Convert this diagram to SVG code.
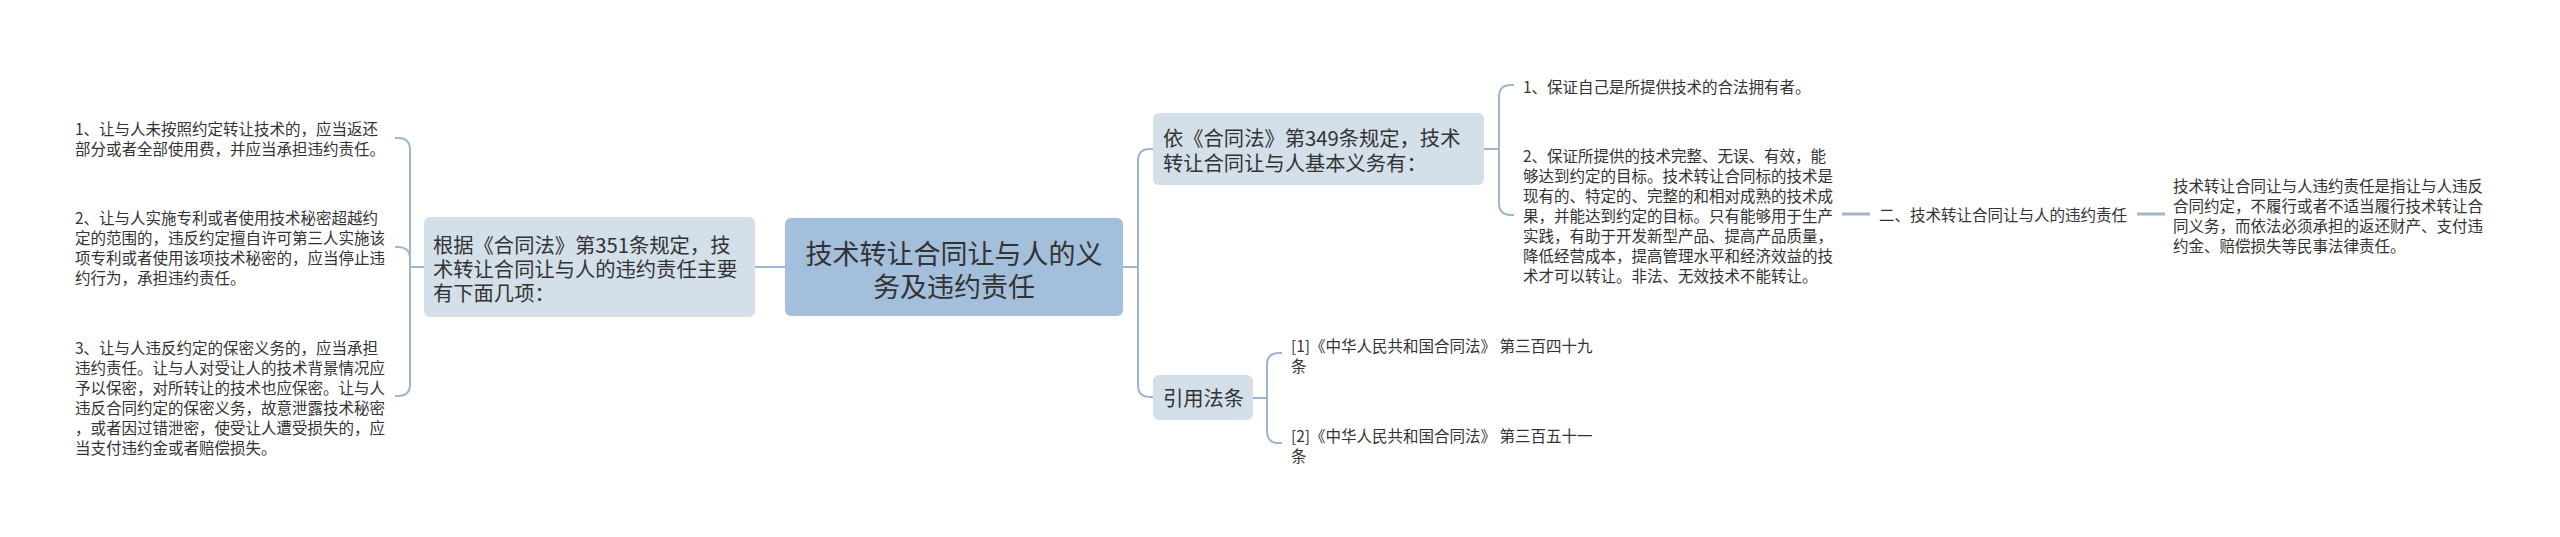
<svg xmlns="http://www.w3.org/2000/svg" width="2560" height="537" viewBox="0 0 2560 537">
<style>
text{font-family:"Noto Sans CJK SC","Noto Sans",sans-serif;fill:#333;dominant-baseline:central}
.s{font-size:15.5px}
.m{font-size:20.3px}
.c{font-size:27px;text-anchor:middle}
.n2{fill:#d3dfe9}
.n1{fill:#a4bfdb}
.ln{fill:none;stroke:#9bb6d2;stroke-width:2}
.st{fill:none;stroke:#a3b6c8;stroke-width:3}
</style>
<rect width="2560" height="537" fill="#fff"/>
<g id="connectors">
<path class="ln" d="M424,267 L410,267"/>
<path class="ln" d="M410,267 L410,150 Q410,138 398,138 L395,138"/>
<path class="ln" d="M410,267 L410,259 Q410,247 398,247 L395,247"/>
<path class="ln" d="M410,267 L410,384 Q410,396 398,396 L395,396"/>
<path class="ln" d="M755,267 L785,267"/>
<path class="ln" d="M1123,267 L1138,267"/>
<path class="ln" d="M1138,267 L1138,161 Q1138,149 1150,149 L1153,149"/>
<path class="ln" d="M1138,267 L1138,385 Q1138,397 1150,397 L1153,397"/>
<path class="ln" d="M1484,149 L1499,149"/>
<path class="ln" d="M1499,149 L1499,97 Q1499,85 1511,85 L1514,85"/>
<path class="ln" d="M1499,149 L1499,203 Q1499,215 1511,215 L1514,215"/>
<path class="ln" d="M1253,398 L1267,398"/>
<path class="ln" d="M1267,398 L1267,365 Q1267,353 1279,353 L1282,353"/>
<path class="ln" d="M1267,398 L1267,431 Q1267,443 1279,443 L1282,443"/>
<path class="st" d="M1842,214 L1870,214"/>
<path class="st" d="M2137,214 L2165,214"/>
</g>
<g id="root">
<rect class="n1" x="785" y="218" width="338" height="98" rx="6"/>
<text class="c" x="954" y="252">技术转让合同让与人的义</text>
<text class="c" x="954" y="285">务及违约责任</text>
</g>
<g id="left-main">
<rect class="n2" x="424" y="217" width="331" height="100" rx="6"/>
<text class="m" x="433" y="244">根据《合同法》第351条规定，技</text>
<text class="m" x="433" y="268">术转让合同让与人的违约责任主要</text>
<text class="m" x="433" y="292">有下面几项：</text>
</g>
<g id="left-1">
<text class="s" x="75" y="128">1、让与人未按照约定转让技术的，应当返还</text>
<text class="s" x="75" y="148">部分或者全部使用费，并应当承担违约责任。</text>
</g>
<g id="left-2">
<text class="s" x="75" y="217">2、让与人实施专利或者使用技术秘密超越约</text>
<text class="s" x="75" y="237">定的范围的，违反约定擅自许可第三人实施该</text>
<text class="s" x="75" y="257">项专利或者使用该项技术秘密的，应当停止违</text>
<text class="s" x="75" y="277">约行为，承担违约责任。</text>
</g>
<g id="left-3">
<text class="s" x="75" y="347">3、让与人违反约定的保密义务的，应当承担</text>
<text class="s" x="75" y="367">违约责任。让与人对受让人的技术背景情况应</text>
<text class="s" x="75" y="387">予以保密，对所转让的技术也应保密。让与人</text>
<text class="s" x="75" y="407">违反合同约定的保密义务，故意泄露技术秘密</text>
<text class="s" x="75" y="427">，或者因过错泄密，使受让人遭受损失的，应</text>
<text class="s" x="75" y="447">当支付违约金或者赔偿损失。</text>
</g>
<g id="right-main">
<rect class="n2" x="1153" y="113" width="331" height="72" rx="6"/>
<text class="m" x="1163" y="137">依《合同法》第349条规定，技术</text>
<text class="m" x="1163" y="162">转让合同让与人基本义务有：</text>
</g>
<g id="duty-1">
<text class="s" x="1523" y="86">1、保证自己是所提供技术的合法拥有者。</text>
</g>
<g id="duty-2">
<text class="s" x="1523" y="155">2、保证所提供的技术完整、无误、有效，能</text>
<text class="s" x="1523" y="175">够达到约定的目标。技术转让合同标的技术是</text>
<text class="s" x="1523" y="195">现有的、特定的、完整的和相对成熟的技术成</text>
<text class="s" x="1523" y="215">果，并能达到约定的目标。只有能够用于生产</text>
<text class="s" x="1523" y="235">实践，有助于开发新型产品、提高产品质量，</text>
<text class="s" x="1523" y="255">降低经营成本，提高管理水平和经济效益的技</text>
<text class="s" x="1523" y="275">术才可以转让。非法、无效技术不能转让。</text>
</g>
<g id="liability">
<text class="s" x="1879" y="214">二、技术转让合同让与人的违约责任</text>
</g>
<g id="liability-def">
<text class="s" x="2173" y="185">技术转让合同让与人违约责任是指让与人违反</text>
<text class="s" x="2173" y="205">合同约定，不履行或者不适当履行技术转让合</text>
<text class="s" x="2173" y="225">同义务，而依法必须承担的返还财产、支付违</text>
<text class="s" x="2173" y="245">约金、赔偿损失等民事法律责任。</text>
</g>
<g id="cite">
<rect class="n2" x="1153" y="375" width="100" height="45" rx="6"/>
<text class="m" x="1163" y="397">引用法条</text>
</g>
<g id="cite-1">
<text class="s" x="1291" y="345">[1]《中华人民共和国合同法》 第三百四十九</text>
<text class="s" x="1291" y="365">条</text>
</g>
<g id="cite-2">
<text class="s" x="1291" y="435">[2]《中华人民共和国合同法》 第三百五十一</text>
<text class="s" x="1291" y="455">条</text>
</g>
</svg>
